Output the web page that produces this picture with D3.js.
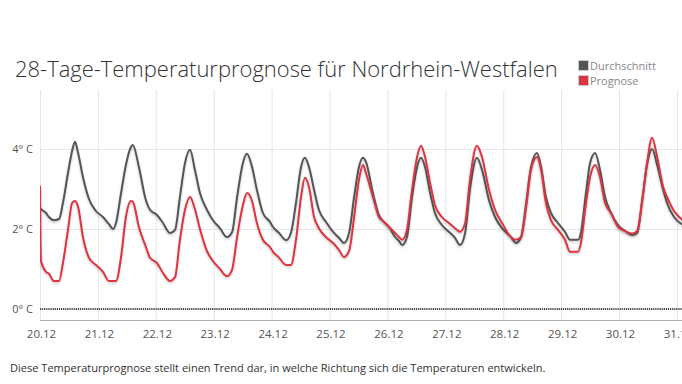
<!DOCTYPE html>
<html><head><meta charset="utf-8">
<script src="https://cdn.jsdelivr.net/npm/d3@7"></script>
<style>html,body{margin:0;padding:0;background:#fff;} svg{display:block;font-family:"Open Sans",sans-serif;}</style>
</head><body><svg id="c" width="682" height="384"></svg>
<script>
const title = "28-Tage-Temperaturprognose für Nordrhein-Westfalen";
const note = "Diese Temperaturprognose stellt einen Trend dar, in welche Richtung sich die Temperaturen entwickeln.";
const seriesNames = ["Durchschnitt", "Prognose"];
const tickLabels = ["20.12","21.12","22.12","23.12","24.12","25.12","26.12","27.12","28.12","29.12","30.12","31.12"];
const yTickValues = [0, 2, 4];
const yTickLabels = ["0° C", "2° C", "4° C"];
// hours since 20.12 00:00
const hours = [0,0.4,2.5,3.7,5.8,7.9,9.5,11.6,13.3,14.5,15.8,17.8,20.3,23.2,26.1,28.6,30.3,31.5,33.6,35.6,37.7,38.5,41.0,43.9,
 45.6,48.5,51.0,53.9,56.0,58.0,60.1,62.2,64.2,66.3,69.2,71.7,74.6,77.5,79.6,81.7,84.1,85.8,87.9,89.9,92.4,95.3,
 96.6,99.1,102.0,104.0,106.1,108.2,109.8,111.5,113.6,115.6,118.5,121.5,123.9,126.0,128.1,130.2,132.2,133.9,135.1,138.0,140.5,
 142.2,144.7,147.2,148.8,150.1,152.1,154.2,156.3,157.9,159.6,161.7,163.7,166.6,169.5,172.0,174.1,176.2,178.2,181.1,183.2,186.1,188.6,
 191.5,195.2,197.3,199.4,201.5,203.5,206.0,207.7,209.7,211.8,214.7,217.6,219.7,223.0,224.2,226.3,228.0,230.1,232.1,234.2,236.7,
 239.6,242.5,245.4,247.5,249.6,251.6,253.7,255.8,258.3,259.9,262.8,265.3,266.9];
const durchschnitt = [2.53,2.5,2.4,2.3,2.22,2.25,2.65,3.4,3.95,4.18,3.9,3.3,2.75,2.45,2.3,2.12,2.0,2.15,2.9,3.6,4.05,4.1,3.55,2.72,
 2.48,2.35,2.15,1.9,1.98,2.8,3.65,3.98,3.48,2.9,2.48,2.22,2.02,1.8,1.92,2.8,3.65,3.88,3.55,2.98,2.4,2.18,
 2.05,1.9,1.72,1.9,2.65,3.55,3.78,3.55,2.98,2.48,2.18,1.93,1.78,1.65,1.9,2.8,3.55,3.78,3.68,2.9,2.35,
 2.2,2.05,1.8,1.7,1.6,1.8,2.8,3.55,3.78,3.55,2.9,2.4,2.1,1.93,1.78,1.6,1.9,2.98,3.78,3.48,2.72,2.3,
 2.02,1.8,1.65,1.8,2.65,3.55,3.9,3.55,2.8,2.4,2.15,1.93,1.73,1.73,1.9,2.9,3.65,3.9,3.48,2.8,2.4,
 2.1,1.95,1.85,1.9,2.7,3.6,4.0,3.6,2.98,2.65,2.3,2.15,2.1];
const prognose = [3.08,1.2,0.93,0.88,0.7,0.7,1.15,1.98,2.65,2.7,2.55,1.8,1.28,1.1,0.93,0.7,0.7,0.7,1.3,2.3,2.7,2.68,2.05,1.55,
 1.28,1.15,0.9,0.7,0.8,1.73,2.48,2.8,2.5,2.0,1.45,1.2,1.0,0.82,0.98,1.8,2.6,2.9,2.7,2.15,1.73,1.55,
 1.43,1.28,1.1,1.1,1.73,2.8,3.28,3.05,2.3,2.02,1.8,1.65,1.48,1.3,1.45,2.3,3.23,3.6,3.4,2.8,2.3,
 2.2,2.05,1.9,1.8,1.73,1.98,2.98,3.8,4.08,3.8,3.15,2.6,2.3,2.15,2.02,1.93,2.15,3.23,4.08,3.8,2.98,2.48,
 2.15,1.8,1.73,1.8,2.55,3.48,3.8,3.48,2.65,2.22,1.98,1.73,1.43,1.43,1.65,2.65,3.3,3.6,3.3,2.65,2.4,
 2.05,1.95,1.88,1.95,2.72,3.65,4.28,3.8,3.05,2.8,2.45,2.28,2.2];
const colors = ["#555555", "#dc3541"];

const svg = d3.select("#c");
svg.append("rect").attr("width",682).attr("height",384).attr("fill","#fff");
const defs = svg.append("defs");
const f = defs.append("filter").attr("id","sh").attr("x","-5%").attr("y","-10%").attr("width","110%").attr("height","130%");
f.append("feDropShadow").attr("dx",0).attr("dy",1.5).attr("stdDeviation",1).attr("flood-color","#000").attr("flood-opacity",0.22);

const x = d3.scaleLinear().domain([0, 266.1]).range([40, 682]);
const y = d3.scaleLinear().domain([-0.3, 5.475]).range([321, 90]);
const dayTicks = tickLabels.map((d,i)=>i*24);

defs.append("clipPath").attr("id","clip").append("rect")
  .attr("x", x(0)).attr("y", y(5.475)).attr("width", x(266.1)-x(0)).attr("height", y(-0.3)-y(5.475));

// vertical grid
svg.append("g").selectAll("line").data(dayTicks).join("line")
  .attr("x1",d=>x(d)+0.5).attr("x2",d=>x(d)+0.5).attr("y1",y(5.475)).attr("y2",y(-0.3))
  .attr("stroke","#e6e6e6").attr("stroke-width",1);
// horizontal grid
svg.append("g").selectAll("line").data(yTickValues.filter(v=>v>0)).join("line")
  .attr("x1",x(0)).attr("x2",682).attr("y1",d=>Math.round(y(d))+0.5).attr("y2",d=>Math.round(y(d))+0.5)
  .attr("stroke","#e6e6e6").attr("stroke-width",1);
// bottom axis line
svg.append("line").attr("x1",x(0)).attr("x2",682).attr("y1",y(-0.3)-0.5).attr("y2",y(-0.3)-0.5)
  .attr("stroke","#b0b0b0").attr("stroke-width",1);
// zero dotted line
svg.append("line").attr("x1",x(0)).attr("x2",682).attr("y1",y(0)).attr("y2",y(0))
  .attr("stroke","#444").attr("stroke-width",2).attr("stroke-dasharray","1.2,0.9");

// y labels
svg.append("g").selectAll("text").data(yTickValues).join("text")
  .attr("x",33).attr("y",d=>y(d)).attr("dy","0.35em").attr("text-anchor","end")
  .attr("font-size",11).attr("fill","#555").text((d,i)=>yTickLabels[i]);
// x labels
svg.append("g").selectAll("text").data(dayTicks).join("text")
  .attr("x",d=>x(d)+1.5).attr("y",334).attr("dy","0.35em").attr("text-anchor","middle")
  .attr("font-size",11.5).attr("fill","#555").text((d,i)=>tickLabels[i]);

// lines
const line = d3.line().curve(d3.curveMonotoneX).x(d=>x(d[0])).y(d=>y(d[1]));
const g = svg.append("g").attr("clip-path","url(#clip)");
[durchschnitt, prognose].forEach((vals,i)=>{
  g.append("path").datum(hours.map((h,k)=>[h, vals[k]]))
   .attr("d", line).attr("fill","none").attr("stroke",colors[i]).attr("stroke-width",2)
   .attr("stroke-linejoin","round").attr("filter","url(#sh)");
});

// title
const t = svg.append("text").attr("x",15).attr("y",77).attr("font-size",22).attr("font-weight",300)
  .attr("fill","#333").text(title);
const tw = t.node().getComputedTextLength();
t.attr("font-size", 22*543/tw);

// legend
const lg = svg.append("g");
seriesNames.forEach((n,i)=>{
  lg.append("rect").attr("x",578.5).attr("y",60.5+i*15).attr("width",10).attr("height",10)
    .attr("fill",colors[i]).attr("stroke","#ccc").attr("stroke-width",1);
  lg.append("text").attr("x",590).attr("y",66+i*15).attr("dy","0.35em")
    .attr("font-size",11).attr("fill","#888").text(n);
});

// note
const nt = svg.append("text").attr("x",10).attr("y",368).attr("dy","0.35em").attr("font-size",11)
  .attr("fill","#333").text(note);
const nw = nt.node().getComputedTextLength();
nt.attr("font-size", 11*536/nw);
</script></body></html>
